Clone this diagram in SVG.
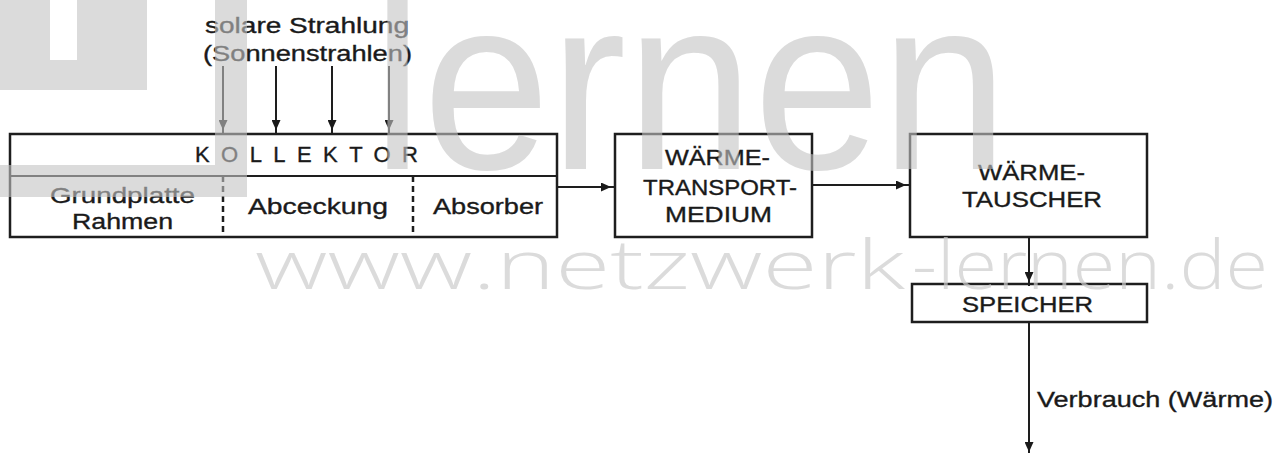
<svg xmlns="http://www.w3.org/2000/svg" width="1288" height="453" viewBox="0 0 1288 453">
<defs>
<marker id="ah" markerUnits="userSpaceOnUse" markerWidth="10" markerHeight="9" refX="14" refY="4.5" orient="auto"><path d="M0,0 L10,4.5 L0,9 z" fill="#1a1a1a"/></marker>
</defs>
<style>
.box{fill:none;stroke:#1e1e1e;stroke-width:2.5}
.t{font-family:"Liberation Sans",Arial,sans-serif;font-size:22px;fill:#1a1a1a;stroke:#1a1a1a;stroke-width:0.35}
.ln{stroke:#1e1e1e;stroke-width:2;fill:none}
.dash{stroke:#1e1e1e;stroke-width:2.5;stroke-dasharray:6 4;fill:none}
.wmt{font-family:"Liberation Sans",Arial,sans-serif}
.wmw{font-family:"Open Sans","Liberation Sans",Arial,sans-serif;font-weight:300}
</style>
<rect width="1288" height="453" fill="#ffffff"/>

<g id="label-top">
<text class="t" x="205" y="33" textLength="204" lengthAdjust="spacingAndGlyphs">solare Strahlung</text>
<text class="t" x="203" y="61" textLength="209" lengthAdjust="spacingAndGlyphs">(Sonnenstrahlen)</text>
</g>

<g id="kollektor">
<rect class="box" x="10" y="134" width="547" height="103"/>
<line class="ln" x1="10" y1="176" x2="557" y2="176" stroke-width="2.5"/>
<line class="dash" x1="223" y1="176" x2="223" y2="237"/>
<line class="dash" x1="413" y1="176" x2="413" y2="237"/>
<text class="t" x="195" y="162" textLength="223">KOLLEKTOR</text>
<text class="t" x="50" y="203" textLength="145" lengthAdjust="spacingAndGlyphs">Grundplatte</text>
<text class="t" x="72" y="229" textLength="101" lengthAdjust="spacingAndGlyphs">Rahmen</text>
<text class="t" x="248" y="214" textLength="140" lengthAdjust="spacingAndGlyphs">Abceckung</text>
<text class="t" x="433" y="214" textLength="110" lengthAdjust="spacingAndGlyphs">Absorber</text>
</g>

<g id="waermetransportmedium">
<rect class="box" x="615" y="134" width="197" height="103"/>
<text class="t" x="665" y="165" textLength="105" lengthAdjust="spacingAndGlyphs">WÄRME-</text>
<text class="t" x="643" y="195" textLength="154" lengthAdjust="spacingAndGlyphs">TRANSPORT-</text>
<text class="t" x="665" y="222" textLength="107" lengthAdjust="spacingAndGlyphs">MEDIUM</text>
</g>

<g id="waermetauscher">
<rect class="box" x="910" y="134" width="237" height="103"/>
<text class="t" x="978" y="180" textLength="107" lengthAdjust="spacingAndGlyphs">WÄRME-</text>
<text class="t" x="962" y="207" textLength="140" lengthAdjust="spacingAndGlyphs">TAUSCHER</text>
</g>

<g id="speicher">
<rect class="box" x="912" y="284" width="235" height="38"/>
<text class="t" x="962" y="312" textLength="131" lengthAdjust="spacingAndGlyphs">SPEICHER</text>
</g>

<g id="verbrauch-label">
<text class="t" x="1037" y="407" textLength="236" lengthAdjust="spacingAndGlyphs">Verbrauch (Wärme)</text>
</g>

<g id="connectors">
<line class="ln" x1="223" y1="66" x2="223" y2="134" marker-end="url(#ah)"/>
<line class="ln" x1="276" y1="66" x2="276" y2="134" marker-end="url(#ah)"/>
<line class="ln" x1="332" y1="66" x2="332" y2="134" marker-end="url(#ah)"/>
<line class="ln" x1="389" y1="66" x2="389" y2="134" marker-end="url(#ah)"/>
<line class="ln" x1="557" y1="187" x2="615" y2="187" marker-end="url(#ah)"/>
<line class="ln" x1="812" y1="185" x2="910" y2="185" marker-end="url(#ah)"/>
<line class="ln" x1="1029" y1="237" x2="1029" y2="286" marker-end="url(#ah)"/>
<line class="ln" x1="1029" y1="322" x2="1029" y2="456" marker-end="url(#ah)"/>
</g>

<g id="watermark" fill="#c4c4c4" opacity="0.6">
<rect x="0" y="0" width="50" height="90"/>
<rect x="50" y="60" width="27" height="30"/>
<rect x="77" y="0" width="70" height="90"/>
<rect x="215" y="0" width="32" height="197"/>
<rect x="0" y="165" width="247" height="32"/>
<text class="wmt" x="372" y="169" font-size="247" textLength="636" lengthAdjust="spacingAndGlyphs">lernen</text>
</g>
<g id="watermark-url" fill="#cdcdcd" opacity="0.7">
<text class="wmw" x="255" y="289" font-size="68" textLength="650" lengthAdjust="spacingAndGlyphs">www.netzwerk</text>
<text class="wmw" x="912" y="289" font-size="68" textLength="356" lengthAdjust="spacingAndGlyphs">-lernen.de</text>
</g>
</svg>
